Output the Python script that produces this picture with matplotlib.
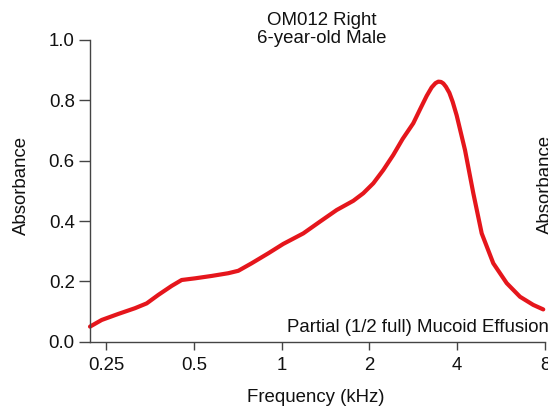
import matplotlib
matplotlib.use("Agg")
import matplotlib.pyplot as plt
from matplotlib.ticker import FixedLocator, NullLocator

plt.rcParams['font.family'] = ['Liberation Sans', 'DejaVu Sans']

# Data (frequency in kHz, absorbance)
freq_khz = [0.2204, 0.2417, 0.2755, 0.3143, 0.3448, 0.3778, 0.4200, 0.4544,
            0.5048, 0.5760, 0.6565, 0.7105, 0.7897, 0.9005, 1.013, 1.187,
            1.354, 1.545, 1.7615, 1.906, 2.063, 2.232, 2.415, 2.60, 2.828,
            3.0, 3.145, 3.27, 3.37, 3.446, 3.52, 3.585, 3.66, 3.76, 3.86,
            3.984, 4.255, 4.543, 4.854, 5.318, 5.913, 6.567, 7.29, 7.89]
absorbance = [0.050, 0.072, 0.092, 0.111, 0.127, 0.155, 0.185, 0.2045,
              0.210, 0.218, 0.227, 0.235, 0.260, 0.293, 0.324, 0.359,
              0.398, 0.4365, 0.467, 0.492, 0.525, 0.569, 0.619, 0.672, 0.724,
              0.775, 0.815, 0.843, 0.857, 0.862, 0.861, 0.856, 0.845, 0.825,
              0.795, 0.750, 0.635, 0.492, 0.359, 0.260, 0.194, 0.149, 0.122,
              0.107]

x_ticks = [0.25, 0.5, 1, 2, 4, 8]
x_ticklabels = ['0.25', '0.5', '1', '2', '4', '8']
y_ticks = [0.0, 0.2, 0.4, 0.6, 0.8, 1.0]
y_ticklabels = ['0.0', '0.2', '0.4', '0.6', '0.8', '1.0']

title_lines = ['OM012 Right', '6-year-old Male']
annotation = 'Partial (1/2 full) Mucoid Effusion'

W, H = 548, 409
fig = plt.figure(figsize=(W / 100, H / 100), dpi=100)
ax = fig.add_axes([90 / W, 1 - 341.7 / H, (545 - 90) / W, (341.7 - 40) / H])

ax.plot(freq_khz, absorbance, color='#e5161c', lw=3.0, solid_capstyle='round',
        solid_joinstyle='round', clip_on=False)

ax.set_xscale('log', base=2)
ax.set_xlim(0.2204, 8.0)
ax.set_ylim(0.0, 1.0)
ax.xaxis.set_major_locator(FixedLocator(x_ticks))
ax.xaxis.set_minor_locator(NullLocator())
ax.set_xticklabels(x_ticklabels)
ax.set_yticks(y_ticks)
ax.set_yticklabels(y_ticklabels)

fs = 13.4
tc = '#111111'
for s in ['top', 'right']:
    ax.spines[s].set_visible(False)
for s in ['left', 'bottom']:
    ax.spines[s].set_color('#444444')
    ax.spines[s].set_linewidth(1.0)
ax.tick_params(axis='y', direction='out', length=8, width=1.0, color='#444444',
               labelsize=fs, pad=3, labelcolor=tc)
ax.tick_params(axis='x', direction='out', length=6, width=1.0, color='#444444',
               labelsize=fs, pad=5, labelcolor=tc)

fig.text(322 / W, 1 - 29.5 / H, '\n'.join(title_lines), ha='center', va='center',
         fontsize=fs, linespacing=1.15, color=tc)
fig.text(316 / W, 1 - 397 / H, 'Frequency (kHz)', ha='center', va='center',
         fontsize=fs, color=tc)
fig.text(21.5 / W, 1 - 185 / H, 'Absorbance', ha='center', va='center',
         rotation=90, fontsize=fs, color=tc)
fig.text(537 / W, 1 - 184 / H, 'Absorbance', ha='left', va='center',
         rotation=90, fontsize=fs, color=tc)
fig.text(549 / W, 1 - 327 / H, annotation, ha='right', va='center', fontsize=fs,
         color=tc)

fig.savefig('out.png', dpi=100)
